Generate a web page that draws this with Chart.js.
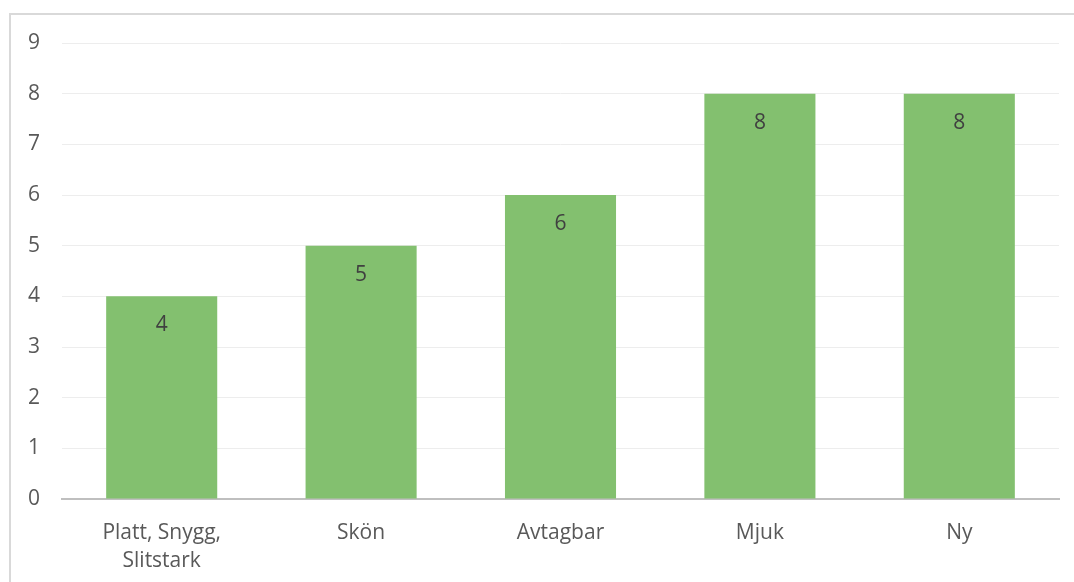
<!DOCTYPE html>
<html>
<head>
<meta charset="utf-8">
<script src="https://cdn.jsdelivr.net/npm/chart.js@4/dist/chart.umd.min.js"></script>
<style>
  html, body { margin: 0; padding: 0; background: #fff; }
  #frame { position: absolute; left: 9px; top: 13px; width: 1100px; height: 600px;
           border-left: 2px solid #d9d9d9; border-top: 2px solid #d9d9d9; }
  #wrap { position: absolute; left: 0; top: 0; width: 1074px; height: 582px; }
</style>
</head>
<body>
<div id="frame"></div>
<div id="wrap"><canvas id="chart1"></canvas></div>
<script>
var categories = [["Platt, Snygg,", "Slitstark"], "Skön", "Avtagbar", "Mjuk", "Ny"]
var values = [4, 5, 6, 8, 8]
var yTicks = [0, 1, 2, 3, 4, 5, 6, 7, 8, 9]

var fontFamily = "'Open Sans', 'Noto Sans', sans-serif"

// draws the value just inside the top of each bar
var barLabels = {
  id: "barLabels",
  afterDatasetsDraw: function(chart) {
    var ctx = chart.ctx
    var meta = chart.getDatasetMeta(0)
    ctx.save()
    ctx.fillStyle = "#404040"
    ctx.font = "21px " + fontFamily
    ctx.textAlign = "center"
    ctx.textBaseline = "middle"
    meta.data.forEach(function(bar, i) {
      ctx.fillText(values[i], bar.x, bar.y + 29)
    })
    ctx.restore()
  }
}

window.onload = () => {
  const ctx = document.getElementById("chart1").getContext("2d")
  new Chart(ctx, {
    type: "bar",
    data: {
      labels: categories,
      datasets: [{
        data: values,
        backgroundColor: "#83c06f",
        borderWidth: 0,
        categoryPercentage: 1,
        barPercentage: 0.557
      }]
    },
    plugins: [barLabels],
    options: {
      responsive: true,
      maintainAspectRatio: false,
      animation: false,
      layout: { padding: { top: 43, right: 15, bottom: 0, left: 0 } },
      plugins: { legend: { display: false }, tooltip: { enabled: false } },
      scales: {
        x: {
          grid: { display: false, drawTicks: false },
          border: { display: true, color: "#bfbfbf", width: 2 },
          ticks: {
            color: "#595959", padding: 20, maxRotation: 0,
            font: { family: fontFamily, size: 21, lineHeight: 1.33 }
          },
          afterFit: function(scale) { scale.height = 83 }
        },
        y: {
          min: 0, max: 9,
          afterBuildTicks: function(scale) {
            scale.ticks = yTicks.map(function(v) { return { value: v } })
          },
          grid: { color: "#ededed", lineWidth: 1, drawTicks: false },
          border: { display: false },
          ticks: {
            color: "#595959", padding: 22,
            font: { family: fontFamily, size: 21 }
          },
          afterFit: function(scale) { scale.width = 62 }
        }
      }
    }
  })
}
</script>
</body>
</html>
